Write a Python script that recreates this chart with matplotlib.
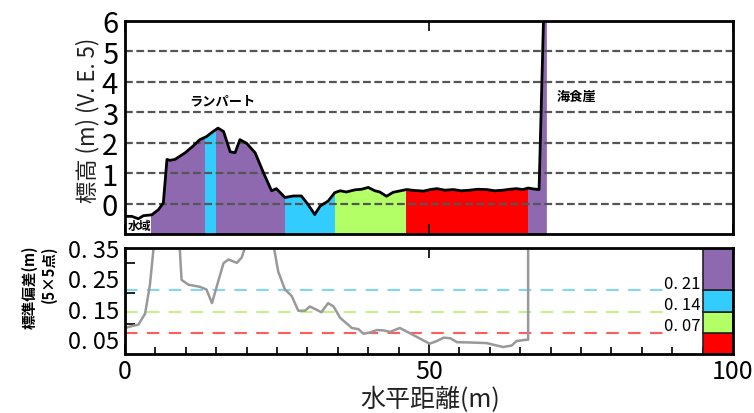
import matplotlib
matplotlib.use("Agg")
import matplotlib.pyplot as plt
from matplotlib.patches import Rectangle
from matplotlib.ticker import MultipleLocator, FixedLocator

plt.rcParams['font.family'] = ['Liberation Sans Narrow', 'Noto Sans CJK JP', 'DejaVu Sans']
JP = ['Noto Sans CJK JP', 'DejaVu Sans']

# elevation profile (m)
prof_x = [0, 1.1, 2.2, 3.0, 4.4, 5.5, 6.3, 6.9, 7.4, 8.2, 9.9, 11.2, 12.3, 13.4,
          14.5, 15.3, 16.2, 17.3, 18.1, 18.9, 20.0, 21.4, 22.8, 24.1, 24.9, 26.3,
          27.7, 29.0, 30.1, 31.2, 32.1, 33.4, 34.5, 35.4, 36.4, 37.8, 38.9, 40.0,
          41.1, 41.9, 43.0, 44.1, 46.3, 47.6, 49.1, 50.2, 51.3, 52.6, 54.0, 55.3,
          56.7, 58.0, 59.5, 60.8, 62.2, 63.3, 64.4, 65.4, 66.3, 67.2, 68.1, 68.9, 69.3]
prof_y = [-0.42, -0.42, -0.5, -0.4, -0.37, -0.2, 0.02, 1.45, 1.42, 1.45, 1.67, 1.89,
          2.1, 2.2, 2.37, 2.48, 2.37, 1.7, 1.67, 2.1, 1.98, 1.67, 1.0, 0.42, 0.49,
          0.2, 0.25, 0.25, -0.03, -0.36, -0.08, 0.08, 0.36, 0.42, 0.38, 0.45, 0.47,
          0.53, 0.42, 0.38, 0.24, 0.37, 0.46, 0.43, 0.41, 0.46, 0.49, 0.44, 0.46,
          0.42, 0.44, 0.47, 0.46, 0.42, 0.44, 0.47, 0.49, 0.46, 0.51, 0.48, 0.46,
          6.6, 6.6]

# classified segments along the profile
seg_edges = [4.2, 13.2, 15.0, 26.3, 34.5, 46.2, 66.3, 69.3]
seg_class = ['purple', 'cyan', 'purple', 'cyan', 'green', 'red', 'purple']

# standard deviation of elevation in 5x5 window (m)
sd_x = [0, 1.1, 2.2, 3.3, 4.1, 4.7, 5.2, 8.6, 9.0, 9.3, 10.4, 12.3, 13.4, 14.3,
        15.1, 16.2, 17.0, 18.4, 19.2, 19.7, 20.2, 24.0, 24.5, 25.2, 26.3, 27.4,
        28.5, 29.6, 30.4, 32.3, 33.4, 34.3, 35.4, 37.3, 38.4, 39.2, 40.3, 41.4,
        42.5, 43.6, 45.2, 46.9, 50.1, 51.3, 52.4, 53.5, 54.6, 56.8, 59.5, 62.2,
        63.6, 64.4, 66.0, 66.3, 66.3]
sd_y = [0.086, 0.092, 0.097, 0.133, 0.229, 0.35, 0.45, 0.45, 0.35, 0.245, 0.229,
        0.222, 0.213, 0.168, 0.224, 0.30, 0.312, 0.301, 0.319, 0.35, 0.45, 0.45,
        0.35, 0.272, 0.213, 0.192, 0.143, 0.143, 0.157, 0.138, 0.168, 0.157, 0.119,
        0.086, 0.082, 0.067, 0.071, 0.079, 0.078, 0.073, 0.086, 0.068, 0.034,
        0.043, 0.054, 0.052, 0.039, 0.038, 0.036, 0.023, 0.028, 0.043, 0.047,
        0.047, 0.5]

thresholds = [0.21, 0.14, 0.07]
thr_labels = ['0. 21', '0. 14', '0. 07']
thr_colors = ['#80d6f7', '#c3f08a', '#ff5c5c']

sd_ticks = [0.05, 0.15, 0.25, 0.35]
sd_ticklabels = ['0. 05', '0. 15', '0. 25', '0. 35']

leg_bounds = [0, 0.07, 0.14, 0.21, 0.35]
leg_class = ['red', 'green', 'cyan', 'purple']

palette = {'purple': '#8e69b0', 'cyan': '#33ccff', 'green': '#b3ff66', 'red': '#ff0000'}

fig = plt.figure(figsize=(7.54, 4.14), dpi=100)
ax1 = fig.add_axes([0.1658, 0.4324, 0.8064, 0.5145])
ax2 = fig.add_axes([0.1658, 0.1425, 0.8064, 0.2560])

# --- top: profile ---
for x0, x1, c in zip(seg_edges[:-1], seg_edges[1:], seg_class):
    f = ax1.fill_between(prof_x, -1, prof_y, color=palette[c], lw=0, zorder=1)
    f.set_clip_path(Rectangle((x0, -1), x1 - x0, 7, transform=ax1.transData))
for v in range(0, 6):
    ax1.axhline(v, color='#555555', lw=1.6, dashes=(3.5, 1.6), zorder=2)
ax1.plot(prof_x[:-1], prof_y[:-1], color='black', lw=2, zorder=3)

ax1.set_xlim(0, 100)
ax1.set_ylim(-1, 6)
ax1.set_yticks(range(0, 7))
ax1.set_xticks([0, 50, 100])
ax1.tick_params(axis='x', direction='in', top=True, length=7, width=1.2,
                labelbottom=False)
ax1.tick_params(axis='y', length=0, pad=5, labelsize=21)
for s in ax1.spines.values():
    s.set_linewidth(2)
    s.set_zorder(5)

ax1.text(16, 3.38, 'ランパート', family=JP, fontsize=9.5, fontweight='bold',
         ha='center', va='center')
ax1.text(71.0, 3.53, '海食崖', family=JP, fontsize=9.5, fontweight='bold',
         ha='left', va='center')
ax1.text(0.4, -0.72, '水域', family=JP, fontsize=8.5, fontweight='bold',
         ha='left', va='center', zorder=4)
fig.text(88 / 754, 1 - 120 / 414, '標高 (m) (V. E. 5)', family=JP, fontsize=16,
         rotation=90, ha='center', va='center', color='#222222')

# --- bottom: standard deviation ---
for t, lab, c in zip(thresholds, thr_labels, thr_colors):
    ax2.plot([0, 89], [t, t], color=c, lw=1.5, dashes=(6, 4.5))
    ax2.text(94.7, t - 0.004, lab, fontsize=12, ha='right', va='bottom')
ax2.plot(sd_x, sd_y, color='#999999', lw=1.8)

for lo, hi, c in zip(leg_bounds[:-1], leg_bounds[1:], leg_class):
    ax2.bar(97.5, hi - lo, bottom=lo, width=5, color=palette[c],
            edgecolor='#222222', lw=1.2, zorder=3)

ax2.set_xlim(0, 100)
ax2.set_ylim(0, 0.35)
ax2.set_xticks([0, 50, 100])
ax2.xaxis.set_minor_locator(MultipleLocator(5))
ax2.set_yticks(sd_ticks)
ax2.set_yticklabels(sd_ticklabels)
ax2.yaxis.set_minor_locator(FixedLocator([0.1, 0.2, 0.3]))
ax2.tick_params(axis='x', which='major', direction='in', top=True, length=7,
                width=1.2, labelsize=18, pad=3)
ax2.tick_params(axis='x', which='minor', direction='in', length=5, width=1.2)
ax2.tick_params(axis='y', which='major', direction='in', length=0,
                labelsize=17, pad=4)
ax2.tick_params(axis='y', which='minor', direction='in', length=7, width=1.2)
for s in ax2.spines.values():
    s.set_linewidth(2)
    s.set_zorder(5)

fig.text(39 / 754, 1 - 246 / 414, '標準偏差(m)\n(5×5点)', family=JP, fontsize=10.5,
         fontweight='bold', rotation=90, ha='center', va='top',
         multialignment='right', linespacing=1.2)
fig.text(430 / 754, 1 - 400 / 414, '水平距離(m)', family=JP, fontsize=18,
         ha='center', va='center', color='#222222')

fig.savefig('out.png', dpi=100, facecolor='white')
